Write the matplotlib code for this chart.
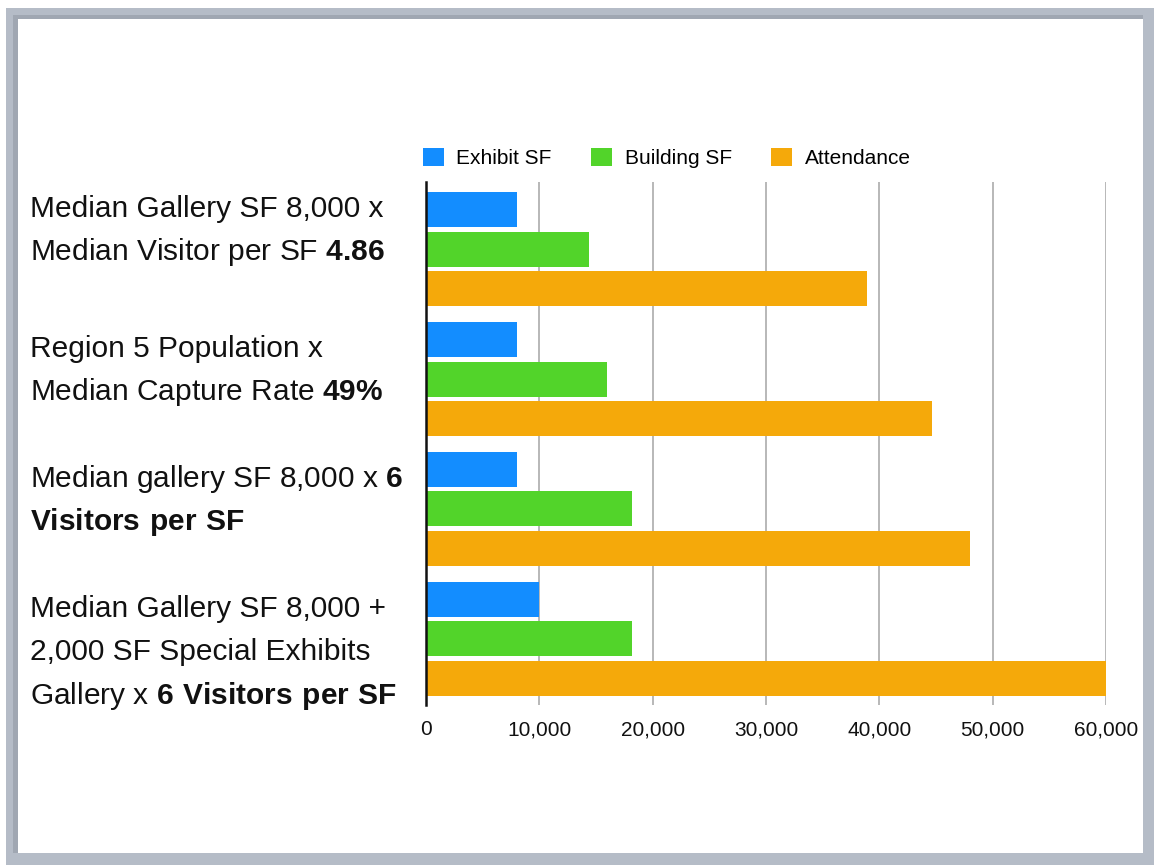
import numpy as np
import matplotlib
matplotlib.use("Agg")
import matplotlib.pyplot as plt
from matplotlib.patches import Rectangle
from matplotlib.ticker import FuncFormatter

plt.rcParams['font.family'] = ['Liberation Sans', 'DejaVu Sans']
plt.rcParams['mathtext.fontset'] = 'custom'
plt.rcParams['mathtext.rm'] = 'Liberation Sans'
plt.rcParams['mathtext.bf'] = 'Liberation Sans:bold'

# data
series = ['Exhibit SF', 'Building SF', 'Attendance']
exhibit_sf = [8000, 8000, 8000, 10000]
building_sf = [14400, 16000, 18200, 18200]
attendance = [38880, 44650, 48000, 60000]
colors = ['#138dff', '#52d42a', '#f5a90a']
xticks = [0, 10000, 20000, 30000, 40000, 50000, 60000]

scenario_lines = [
    ['Median Gallery SF 8,000 x', r'Median Visitor per SF $\mathbf{4.86}$'],
    ['Region 5 Population x', r'Median Capture Rate $\mathbf{49\%}$'],
    [r'Median gallery SF 8,000 x $\mathbf{6}$', r'$\mathbf{Visitors\ per\ SF}$'],
    ['Median Gallery SF 8,000 +', '2,000 SF Special Exhibits',
     r'Gallery x $\mathbf{6\ Visitors\ per\ SF}$'],
]

W, H = 1154, 865
fig = plt.figure(figsize=(W / 100, H / 100), dpi=100)
fig.patch.set_facecolor('white')


def fx(px):
    return px / W


def fy(py):
    return 1 - py / H


# slide frame
fig.add_artist(Rectangle((fx(6), 0), fx(W - 6), 1 - 8 / H, transform=fig.transFigure,
                         facecolor='#b5bcc7', edgecolor='none', zorder=-10))
fig.add_artist(Rectangle((fx(13), fy(853)), fx(5), (853 - 15) / H, transform=fig.transFigure,
                         facecolor='#a0a7b2', edgecolor='none', zorder=-9))
fig.add_artist(Rectangle((fx(13), fy(19)), fx(1143 - 13), 4 / H, transform=fig.transFigure,
                         facecolor='#a0a7b2', edgecolor='none', zorder=-9))
fig.add_artist(Rectangle((fx(18), fy(853)), fx(1143 - 18), (853 - 19) / H, transform=fig.transFigure,
                         facecolor='white', edgecolor='none', zorder=-8))

ax = fig.add_axes([fx(426), fy(705), fx(680), 523 / H])
ax.patch.set_visible(False)

y = np.arange(len(exhibit_sf))
step = 0.3045
bh = 0.27
bars = []
for k, (vals, c) in enumerate(zip([exhibit_sf, building_sf, attendance], colors)):
    b = ax.barh(y + (k - 1) * step, vals, height=bh, color=c, label=series[k], zorder=3)
    bars.append(b)

ax.set_xlim(0, 60000)
ax.set_ylim(3.512, -0.52)
ax.set_xticks(xticks)
ax.xaxis.set_major_formatter(FuncFormatter(lambda v, p: f'{int(v):,}'))
ax.set_yticks([])
ax.tick_params(axis='x', length=0, pad=11, labelsize=15, labelcolor='#111111')
ax.set_axisbelow(True)
ax.xaxis.grid(True, color='#b8b8b8', linewidth=1.4)
for side in ['top', 'right', 'bottom']:
    ax.spines[side].set_visible(False)
ax.spines['left'].set_color('#111111')
ax.spines['left'].set_linewidth(1.8)
ax.spines['left'].set_zorder(4)

# scenario labels, one text per line
first_baseline = [217, 357, 487, 617]
line_step = 43.5
for lines, base in zip(scenario_lines, first_baseline):
    for j, line in enumerate(lines):
        fig.text(fx(30), fy(base + j * line_step), line, fontsize=21.5,
                 ha='left', va='baseline', color='#111111')

fig.legend(handles=bars, labels=series, loc='center left',
           bbox_to_anchor=(fx(423), fy(158)), ncol=3, frameon=False,
           fontsize=15, handlelength=1.0, handleheight=1.0,
           handletextpad=0.6, columnspacing=1.9, borderpad=0, borderaxespad=0)

fig.savefig('out.png', dpi=100)
